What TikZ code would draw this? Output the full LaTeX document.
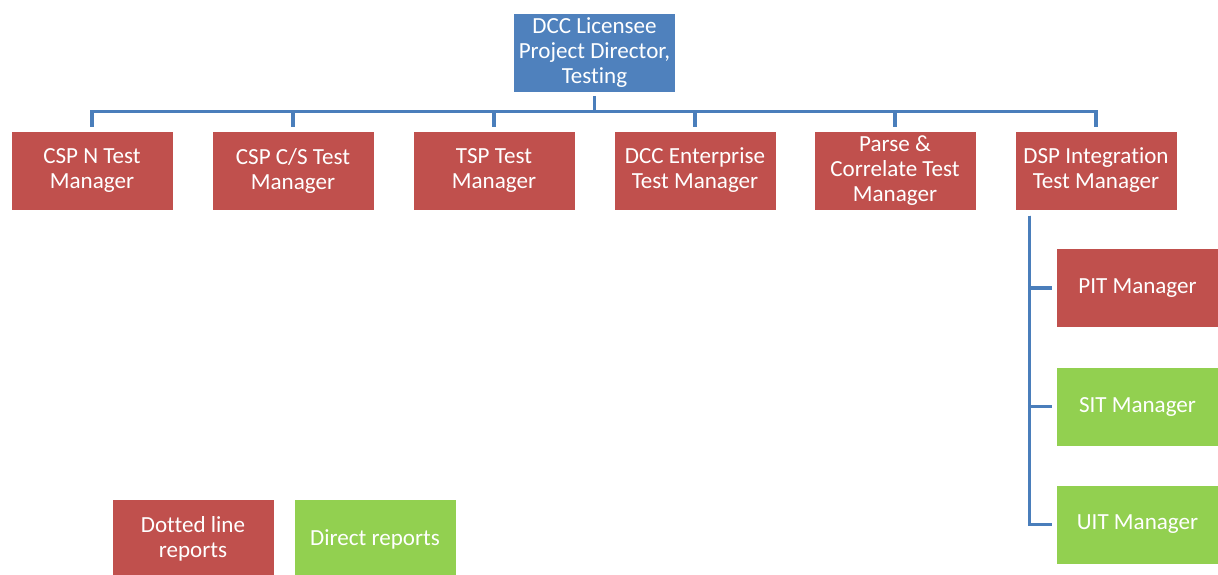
\documentclass[tikz,border=0pt]{standalone}
\usepackage{fontspec}
\setmainfont{Carlito}[Ligatures=NoCommon]
\usepackage{xcolor}

\definecolor{dirblue}{HTML}{4F81BD}
\definecolor{linkblue}{HTML}{4A7EBB}
\definecolor{mgrred}{HTML}{C0504D}
\definecolor{mgrgreen}{HTML}{92D050}

\tikzset{
    box/.style={draw=white, line width=0.5pt, rectangle, text=white, align=center,
        minimum width=121.5pt, minimum height=59.25pt, inner sep=0pt,
        font=\fontsize{17.3}{18.75}\selectfont},
    dirbox/.style={box, fill=dirblue},
    redbox/.style={box, fill=mgrred},
    greenbox/.style={box, fill=mgrgreen},
    link/.style={draw=linkblue, line width=2.4pt, shorten <=3pt, shorten >=3pt}
}

\begin{document}
\begin{tikzpicture}[x=0.75pt, y=-0.75pt]
    \useasboundingbox (0,0) rectangle (1218,575);

    % director and the six test managers
    \node (dir) at (594.5,52.5) [dirbox] {DCC Licensee\\Project Director,\\Testing};
    \node (cspn) at (92,170.5) [redbox] {CSP N Test\\Manager};
    \node (cspcs) at (293,170.5) [redbox] {CSP C/S Test\\Manager};
    \node (tsp) at (494,170.5) [redbox] {TSP Test\\Manager};
    \node (ent) at (695,170.5) [redbox] {DCC Enterprise\\Test Manager};
    \node (parse) at (895,170.5) [redbox] {Parse \&\\Correlate Test\\Manager};
    \node (dsp) at (1096,170.5) [redbox] {DSP Integration\\Test Manager};

    % managers under DSP integration
    \node (pit) at (1137.5,288) [redbox] {PIT Manager};
    \node (sit) at (1137.5,406.5) [greenbox] {SIT Manager};
    \node (uit) at (1137.5,524.5) [greenbox] {UIT Manager};

    % legend
    \node (dotted) at (193,539) [redbox] {Dotted line\\reports};
    \node (direct) at (375,539) [greenbox] {Direct reports};

    \foreach \c in {cspn,cspcs,tsp,ent,parse,dsp}
        \draw[link] (dir.south) -- ++(0,19) -| (\c.north);

    \foreach \c in {pit,sit,uit}
        \draw[link, shorten <=4pt] ([xshift=11.25pt]dsp.south west) |- (\c.west);
\end{tikzpicture}
\end{document}
